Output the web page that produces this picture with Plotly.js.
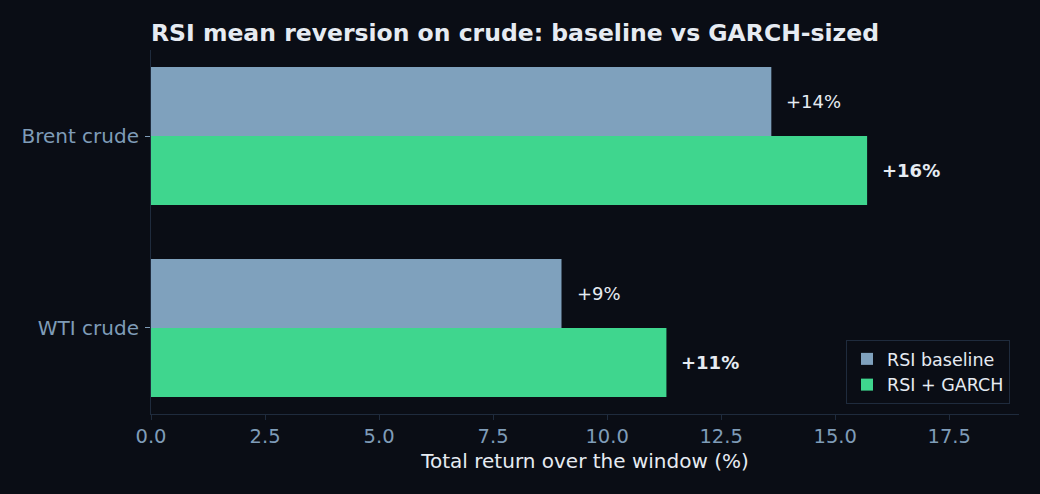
<!DOCTYPE html>
<html>
<head>
<meta charset="utf-8">
<script src="https://cdn.plot.ly/plotly-3.0.1.min.js"></script>
<style>
html,body{margin:0;padding:0;background:#0a0d15;}
#chart{width:1040px;height:494px;}
</style>
</head>
<body>
<div id="chart"></div>
<script>
const categories = ["WTI crude", "Brent crude"];
const baselineReturns = [9.0, 13.6];
const garchReturns = [11.3, 15.7];
const seriesNames = ["RSI baseline", "RSI + GARCH"];
const xTickVals = [0, 2.5, 5, 7.5, 10, 12.5, 15, 17.5];
const xTickText = ["0.0", "2.5", "5.0", "7.5", "10.0", "12.5", "15.0", "17.5"];

const pos = categories.map((c, i) => i);
const barW = 0.36;
const fmt = v => "+" + Math.round(v) + "%";

const traces = [
  {
    type: "bar", orientation: "h", name: seriesNames[0],
    x: baselineReturns, y: pos, width: barW, offset: 0,
    marker: {color: "#7fa1bd", line: {width: 0}},
    hoverinfo: "x"
  },
  {
    type: "bar", orientation: "h", name: seriesNames[1],
    x: garchReturns, y: pos, width: barW, offset: -barW,
    marker: {color: "#3fd68e", line: {width: 0}},
    hoverinfo: "x"
  }
];

const annotations = [];
pos.forEach((p, i) => {
  annotations.push({
    x: baselineReturns[i], y: p + barW / 2, xref: "x", yref: "y",
    text: fmt(baselineReturns[i]), showarrow: false, xanchor: "left", yanchor: "middle",
    xshift: 13, font: {family: "DejaVu Sans", size: 18, color: "#e6ebf2"}
  });
  annotations.push({
    x: garchReturns[i], y: p - barW / 2, xref: "x", yref: "y",
    text: "<b>" + fmt(garchReturns[i]) + "</b>", showarrow: false, xanchor: "left", yanchor: "middle",
    xshift: 13, font: {family: "DejaVu Sans", size: 18, color: "#e6ebf2"}
  });
});

const layout = {
  width: 1040, height: 494,
  paper_bgcolor: "#0a0d15", plot_bgcolor: "#0a0d15",
  margin: {l: 151, r: 21, t: 50, b: 80, pad: 0},
  barmode: "overlay",
  font: {family: "DejaVu Sans", color: "#e6ebf2"},
  title: {
    text: "<b>RSI mean reversion on crude: baseline vs GARCH-sized</b>",
    xref: "container", yref: "container", x: 151 / 1040, xanchor: "left",
    y: 1 - 33 / 494, yanchor: "middle",
    font: {family: "DejaVu Sans", size: 23.5, color: "#e6ebf2"}
  },
  xaxis: {
    range: [0, 19.03], tickvals: xTickVals, ticktext: xTickText,
    showgrid: false, zeroline: false, showline: true, linecolor: "#1f2b3d", linewidth: 1,
    ticks: "outside", ticklen: 5, tickcolor: "#1f2b3d",
    tickfont: {family: "DejaVu Sans", size: 19.5, color: "#7f9cb8"},
    title: {text: "Total return over the window (%)", standoff: 6,
      font: {family: "DejaVu Sans", size: 20, color: "#e6ebf2"}}
  },
  yaxis: {
    range: [-0.448, 1.448], tickvals: pos, ticktext: categories,
    showgrid: false, zeroline: false, showline: true, linecolor: "#1f2b3d", linewidth: 1,
    ticks: "outside", ticklen: 5, tickcolor: "#7f9cb8", ticklabelstandoff: 2,
    tickfont: {family: "DejaVu Sans", size: 20, color: "#7f9cb8"}
  },
  legend: {
    x: (1010 - 151) / 868, xanchor: "right", y: (414 - 404) / 364, yanchor: "bottom",
    bgcolor: "#0a0d15", bordercolor: "#1f2b3d", borderwidth: 1,
    font: {family: "DejaVu Sans", size: 17.5, color: "#e6ebf2"},
    traceorder: "normal"
  },
  annotations: annotations,
  showlegend: true
};

Plotly.newPlot("chart", traces, layout, {displayModeBar: false, staticPlot: true});
</script>
</body>
</html>
